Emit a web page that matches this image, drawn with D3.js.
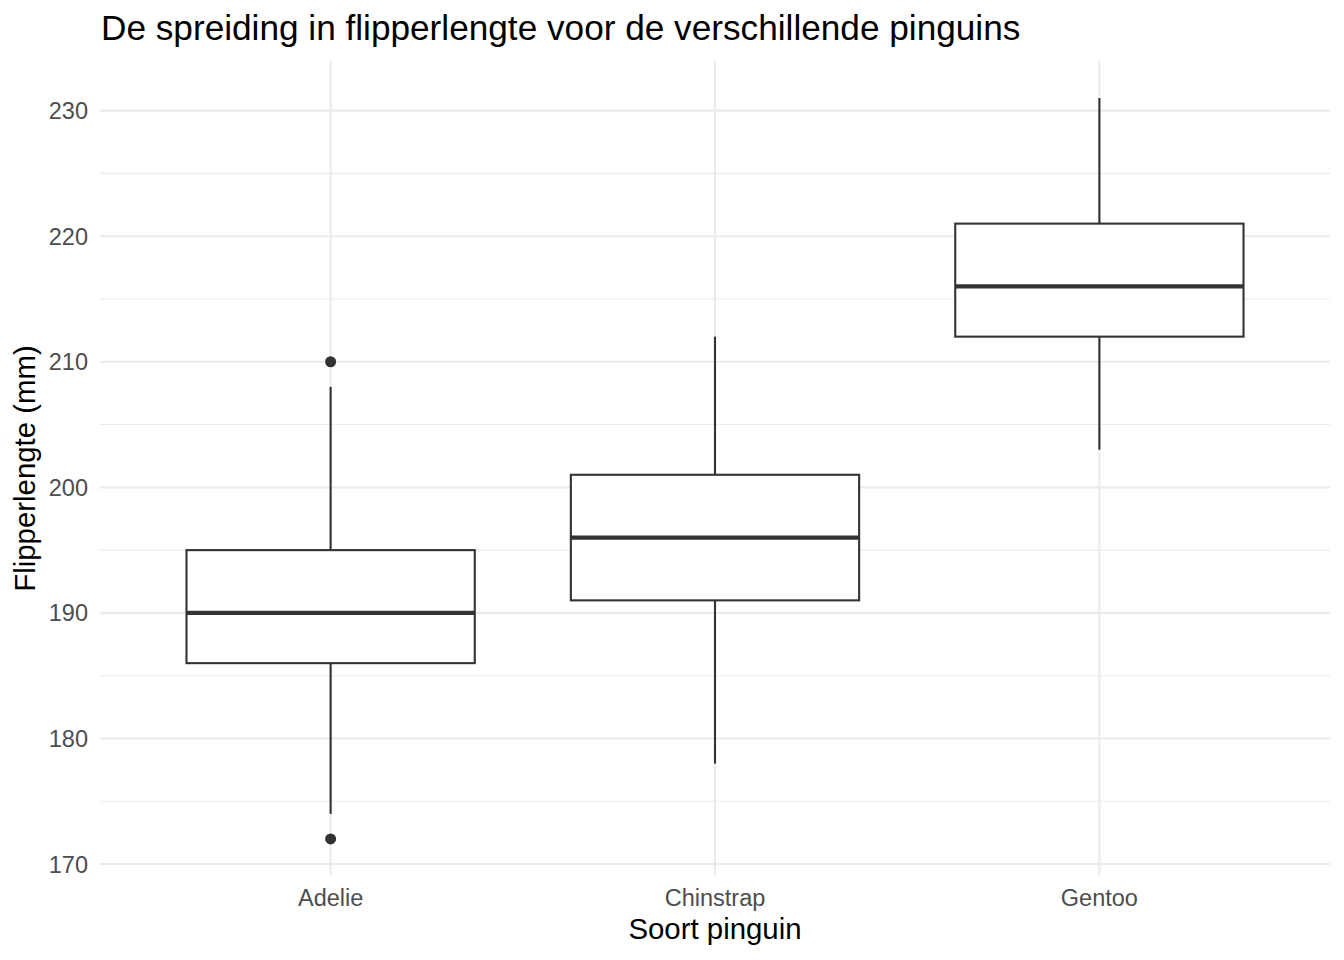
<!DOCTYPE html>
<html>
<head>
<meta charset="utf-8">
<script src="https://cdn.jsdelivr.net/npm/d3@7"></script>
<style>
  body { margin: 0; background: #fff; }
  text { font-family: "Liberation Sans", Arial, sans-serif; }
</style>
</head>
<body>
<svg id="chart" width="1344" height="960"></svg>
<script>
// Boxplot statistics
const species = ['Adelie', 'Chinstrap', 'Gentoo'];
const whiskerLow = [174, 178, 203];
const q1 = [186, 191, 212];
const median = [190, 196, 216];
const q3 = [195, 201, 221];
const whiskerHigh = [208, 212, 231];
const outliers = [[172, 210], [], []];
const yTicks = [170, 180, 190, 200, 210, 220, 230];
const yMinorTicks = [175, 185, 195, 205, 215, 225];

const svg = d3.select('#chart');
const margin = { top: 61, right: 14, bottom: 84, left: 100 };
const width = 1344 - margin.left - margin.right;
const height = 960 - margin.top - margin.bottom;

// ggplot-like expansion: 5% on continuous, 0.6 on discrete
const yMin = 172, yMax = 231, pad = (yMax - yMin) * 0.05;
const y = d3.scaleLinear()
  .domain([yMin - pad, yMax + pad])
  .range([height, 0]);

const step = width / (species.length - 1 + 1.2);
const x = d3.scalePoint()
  .domain(species)
  .range([step * 0.6, width - step * 0.6]);
const boxW = step * 0.75;

const g = svg.append('g').attr('transform', `translate(${margin.left},${margin.top})`);

// Grid lines
g.selectAll('.minor').data(yMinorTicks).enter().append('line')
  .attr('x1', 0).attr('x2', width)
  .attr('y1', (d) => y(d)).attr('y2', (d) => y(d))
  .style('stroke', '#ebebeb').style('stroke-width', 1.1);
g.selectAll('.major').data(yTicks).enter().append('line')
  .attr('x1', 0).attr('x2', width)
  .attr('y1', (d) => y(d)).attr('y2', (d) => y(d))
  .style('stroke', '#ebebeb').style('stroke-width', 2.1);
g.selectAll('.vmajor').data(species).enter().append('line')
  .attr('x1', (d) => x(d)).attr('x2', (d) => x(d))
  .attr('y1', 0).attr('y2', height)
  .style('stroke', '#ebebeb').style('stroke-width', 2.1);

// Y axis labels
g.selectAll('.ylab').data(yTicks).enter().append('text')
  .attr('x', -12).attr('y', (d) => y(d))
  .attr('dy', '0.36em')
  .style('text-anchor', 'end')
  .style('font-size', '23.5px')
  .style('fill', '#4d4d4d')
  .text((d) => d);

// X axis labels
g.selectAll('.xlab').data(species).enter().append('text')
  .attr('x', (d) => x(d)).attr('y', height + 30)
  .style('text-anchor', 'middle')
  .style('font-size', '23.5px')
  .style('fill', '#4d4d4d')
  .text((d) => d);

const stroke = '#333333';
species.forEach((s, i) => {
  const cx = x(s);
  // whiskers
  g.append('line')
    .attr('x1', cx).attr('x2', cx)
    .attr('y1', y(q3[i])).attr('y2', y(whiskerHigh[i]))
    .style('stroke', stroke).style('stroke-width', 2.1);
  g.append('line')
    .attr('x1', cx).attr('x2', cx)
    .attr('y1', y(q1[i])).attr('y2', y(whiskerLow[i]))
    .style('stroke', stroke).style('stroke-width', 2.1);
  // box
  g.append('rect')
    .attr('x', cx - boxW / 2).attr('width', boxW)
    .attr('y', y(q3[i])).attr('height', y(q1[i]) - y(q3[i]))
    .style('fill', '#fff')
    .style('stroke', stroke).style('stroke-width', 2.1);
  // median
  g.append('line')
    .attr('x1', cx - boxW / 2).attr('x2', cx + boxW / 2)
    .attr('y1', y(median[i])).attr('y2', y(median[i]))
    .style('stroke', stroke).style('stroke-width', 4.3);
  // outliers
  g.selectAll(null).data(outliers[i]).enter().append('circle')
    .attr('cx', cx).attr('cy', (d) => y(d))
    .attr('r', 5.5)
    .style('fill', stroke);
});

// Titles
svg.append('text')
  .attr('x', 101).attr('y', 40)
  .style('font-size', '35.2px')
  .style('fill', '#000')
  .text('De spreiding in flipperlengte voor de verschillende pinguins');

svg.append('text')
  .attr('x', margin.left + width / 2).attr('y', 939)
  .style('text-anchor', 'middle')
  .style('font-size', '29.4px')
  .style('fill', '#000')
  .text('Soort pinguin');

svg.append('text')
  .attr('transform', `translate(35,${margin.top + height / 2}) rotate(-90)`)
  .style('text-anchor', 'middle')
  .style('font-size', '29.4px')
  .style('fill', '#000')
  .text('Flipperlengte (mm)');
</script>
</body>
</html>
